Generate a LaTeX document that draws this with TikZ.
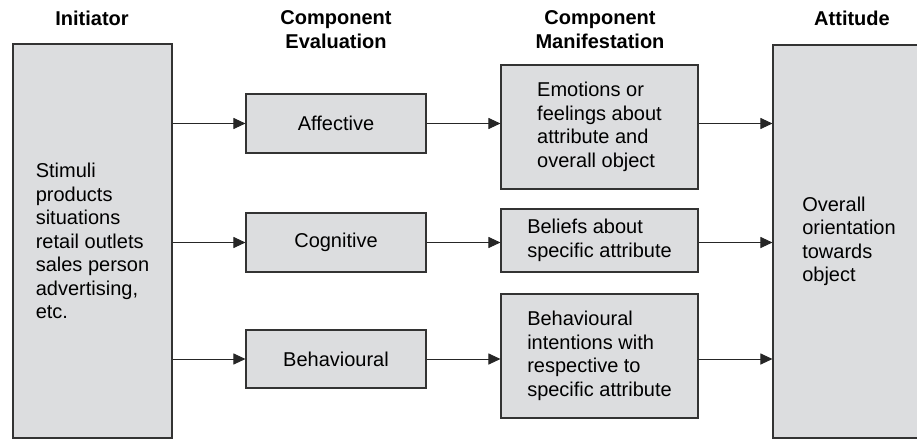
\documentclass[tikz,border=0pt]{standalone}
\usepackage{fontspec}
\setmainfont{Liberation Sans}
\usetikzlibrary{arrows.meta,positioning}
\definecolor{boxgray}{HTML}{DCDDDF}

\begin{document}
\begin{tikzpicture}[x=1pt,y=-1pt,
    font=\fontsize{20}{23.5}\selectfont,
    box/.style={draw=black!80,line width=1.1pt,fill=boxgray,align=left,inner sep=0pt},
    head/.style={font=\fontsize{20}{24}\selectfont\bfseries,align=center},
    link/.style={line width=1pt,draw=black!85,-{Triangle[length=12pt,width=11pt]}}]
 \useasboundingbox (0,0) rectangle (917,439);

 \node[head] (hinit) at (92,18) {Initiator};
 \node[head] (heval) at (336,30) {Component\\Evaluation};
 \node[head] (hmani) at (600,30) {Component\\Manifestation};
 \node[head] (hatt)  at (852,18) {Attitude};

 \node[box,minimum width=159,minimum height=394] (stim) at (92.5,241)
   {Stimuli\\products\\situations\\retail outlets\\sales person\\advertising,\\etc.};

 \node[box,minimum width=180,minimum height=59] (aff) at (336,123.5) {Affective};
 \node[box,minimum width=180,minimum height=59] (cog) at (336,242.5) {Cognitive};
 \node[box,minimum width=180,minimum height=58] (beh) at (336,359) {Behavioural};

 \node[box,minimum width=197,minimum height=124] (emo) at (599.5,127)
   {Emotions or\\feelings about\\attribute and\\overall object};
 \node[box,minimum width=197,minimum height=63] (bel) at (599.5,240.5)
   {Beliefs about\\specific attribute};
 \node[box,minimum width=197,minimum height=124] (int) at (599.5,356)
   {Behavioural\\intentions with\\respective to\\specific attribute};

 \node[box,minimum width=152,minimum height=393] (att) at (849,241.5)
   {Overall\\orientation\\towards\\object};

 \draw[link] (stim.east |- aff) -- (aff.west);
 \draw[link] (stim.east |- cog) -- (cog.west);
 \draw[link] (stim.east |- beh) -- (beh.west);

 \draw[link] (aff.east) -- (aff -| emo.west);
 \draw[link] (cog.east) -- (cog -| bel.west);
 \draw[link] (beh.east) -- (beh -| int.west);

 \draw[link] (aff -| emo.east) -- (aff -| att.west);
 \draw[link] (cog -| bel.east) -- (cog -| att.west);
 \draw[link] (beh -| int.east) -- (beh -| att.west);
\end{tikzpicture}
\end{document}
